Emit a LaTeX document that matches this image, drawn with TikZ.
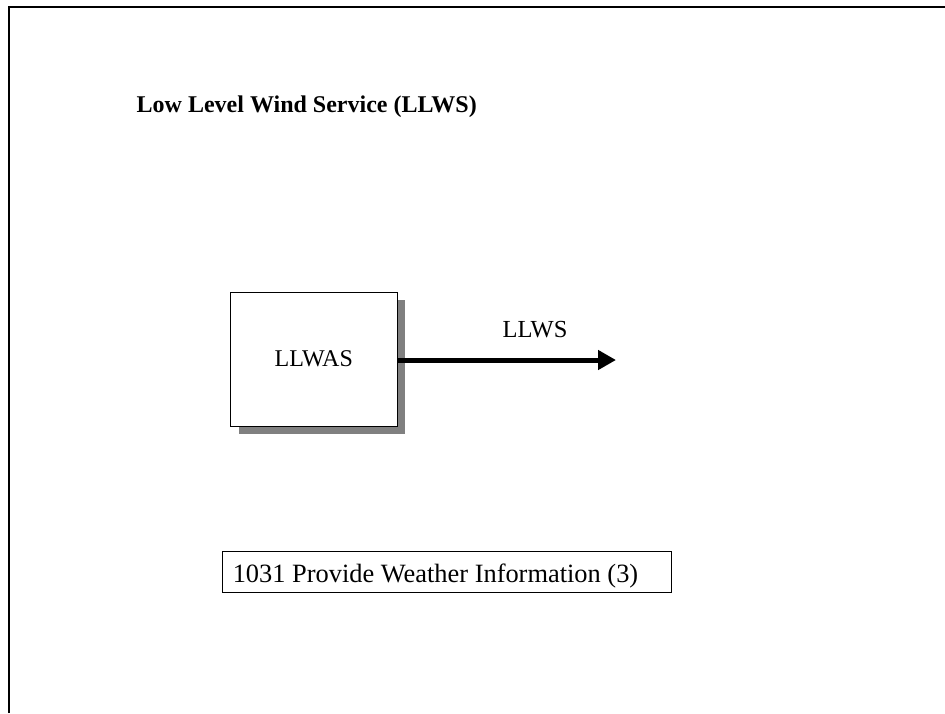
\documentclass[tikz,border=0pt]{standalone}
\usepackage{fontspec}
\setmainfont{Liberation Serif}
\usetikzlibrary{arrows.meta,shadows}
\begin{document}
\begin{tikzpicture}[x=1pt,y=-1pt,
  txt/.style={font=\fontsize{24}{28}\selectfont, inner sep=0pt},
  frameline/.style={line width=2pt},
  procbox/.style={draw, line width=0.9pt, fill=white, minimum width=166.5pt, minimum height=134pt,
    general shadow={fill=gray, shadow xshift=8pt, shadow yshift=-8pt}},
  titlebox/.style={draw, line width=0.9pt, minimum width=449pt, minimum height=41pt, inner sep=0pt},
  flow/.style={line width=5pt, -{Triangle[length=18pt 0, width=19pt 0]}}
]
\useasboundingbox (0,0) rectangle (945,713);
\coordinate (fl) at (8.7,713);
\coordinate (fc) at (8.7,7.3);
\coordinate (fr) at (945,7.3);
\draw[frameline] (fl) -- (fc) -- (fr);
\node[txt, font=\fontsize{24}{28}\selectfont\bfseries, anchor=base west] (title) at (136.5,112) {Low Level Wind Service (LLWS)};
\node[procbox, txt] (llwas) at (313.75,359) {LLWAS};
\coordinate (tip) at (616,360);
\draw[flow] (llwas.east |- tip) -- (tip);
\node[txt, font=\fontsize{24.5}{28}\selectfont] (llws) at (535,330) {LLWS};
\node[titlebox] (proc) at (446.5,571.5) {};
\node[txt, font=\fontsize{26.4}{30}\selectfont, anchor=base west] (proctext) at (proc.west |- 0,582) [xshift=11pt] {1031 Provide Weather Information (3)};
\end{tikzpicture}
\end{document}
